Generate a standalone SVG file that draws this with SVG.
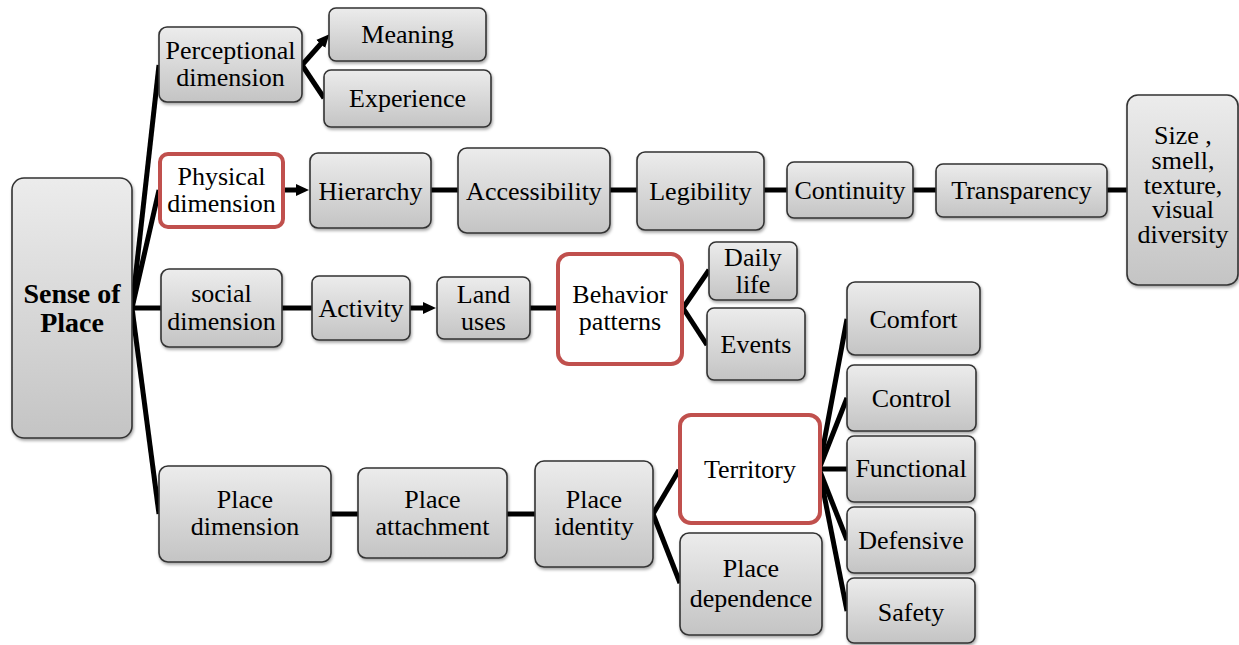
<svg xmlns="http://www.w3.org/2000/svg" width="1239" height="645" viewBox="0 0 1239 645">
<defs>
  <linearGradient id="g" x1="0" y1="0" x2="0" y2="1">
    <stop offset="0" stop-color="#ececec"/>
    <stop offset="1" stop-color="#c4c4c4"/>
  </linearGradient>
  <filter id="sh" x="-10%" y="-10%" width="130%" height="130%">
    <feDropShadow dx="1" dy="2" stdDeviation="1.5" flood-color="#000" flood-opacity="0.35"/>
  </filter>
  <marker id="ah" markerUnits="userSpaceOnUse" markerWidth="14" markerHeight="14" refX="2" refY="7" orient="auto" viewBox="0 0 14 14">
    <path d="M0,1 L13,7 L0,13 z" fill="#000"/>
  </marker>
</defs>
<style>
  .n rect { fill: url(#g); stroke: #333; stroke-width: 1.6; filter: url(#sh); }
  .r rect { fill: #fff; stroke: #c0504d; stroke-width: 4; }
  text { font-family: "Liberation Serif", "Times New Roman", serif; font-size: 26px; fill: #000; text-anchor: middle; }
  .b { font-weight: bold; font-size: 28px; }
  #connectors line { stroke: #000; stroke-width: 5; }
  .arr { marker-end: url(#ah); }
</style>
<rect width="1239" height="645" fill="#fff"/>

<g id="connectors">
  <line x1="132" y1="308" x2="159" y2="65"/>
  <line x1="132" y1="308" x2="159" y2="190"/>
  <line x1="132" y1="308" x2="161" y2="308"/>
  <line x1="132" y1="308" x2="159" y2="514"/>
  <line class="arr" x1="302" y1="65" x2="322" y2="42.5"/>
  <line x1="302" y1="65" x2="324" y2="98"/>
  <line class="arr" x1="284" y1="190" x2="298" y2="190"/>
  <line x1="431" y1="190" x2="458" y2="190"/>
  <line x1="610" y1="190" x2="637" y2="190"/>
  <line x1="764" y1="190" x2="787" y2="190"/>
  <line x1="913" y1="190" x2="936" y2="190"/>
  <line x1="1107" y1="190" x2="1127" y2="190"/>
  <line x1="282" y1="308" x2="312" y2="308"/>
  <line class="arr" x1="410" y1="308" x2="425" y2="308"/>
  <line x1="530" y1="308" x2="557" y2="308"/>
  <line x1="683" y1="308" x2="709" y2="270"/>
  <line x1="683" y1="308" x2="707" y2="345"/>
  <line x1="331" y1="514" x2="358" y2="514"/>
  <line x1="507" y1="514" x2="535" y2="514"/>
  <line x1="653" y1="514" x2="679" y2="470"/>
  <line x1="653" y1="514" x2="680" y2="583"/>
  <line x1="819" y1="469" x2="847" y2="319"/>
  <line x1="819" y1="469" x2="847" y2="398"/>
  <line x1="819" y1="469" x2="847" y2="469"/>
  <line x1="819" y1="469" x2="847" y2="540"/>
  <line x1="819" y1="469" x2="847" y2="611"/>
</g>

<g id="root" class="n"><rect x="12" y="178" width="120" height="260" rx="12"/><text class="b" x="72" y="303">Sense of</text><text class="b" x="72" y="332">Place</text></g>
<g id="perceptional" class="n"><rect x="159" y="27" width="143" height="75" rx="8"/><text x="230.5" y="59">Perceptional</text><text x="230.5" y="86">dimension</text></g>
<g id="meaning" class="n"><rect x="329" y="8" width="157" height="53" rx="7"/><text x="407.5" y="43">Meaning</text></g>
<g id="experience" class="n"><rect x="324" y="70" width="167" height="57" rx="7"/><text x="407.5" y="107">Experience</text></g>
<g id="physical" class="r"><rect x="160" y="154" width="123" height="73" rx="8"/><text x="221.5" y="185">Physical</text><text x="221.5" y="212">dimension</text></g>
<g id="hierarchy" class="n"><rect x="310" y="153" width="121" height="75" rx="8"/><text x="370.5" y="200">Hierarchy</text></g>
<g id="accessibility" class="n"><rect x="458" y="148" width="152" height="85" rx="9"/><text x="534" y="200">Accessibility</text></g>
<g id="legibility" class="n"><rect x="637" y="152" width="127" height="78" rx="8"/><text x="700.5" y="200">Legibility</text></g>
<g id="continuity" class="n"><rect x="787" y="162" width="126" height="56" rx="7"/><text x="850" y="199">Continuity</text></g>
<g id="transparency" class="n"><rect x="936" y="164" width="171" height="53" rx="7"/><text x="1021.5" y="199">Transparency</text></g>
<g id="size" class="n"><rect x="1127" y="95" width="111" height="190" rx="11"/><text x="1183" y="144">Size ,</text><text x="1183" y="169">smell,</text><text x="1183" y="194">texture,</text><text x="1183" y="218">visual</text><text x="1183" y="243">diversity</text></g>
<g id="social" class="n"><rect x="161" y="269" width="121" height="78" rx="8"/><text x="221.5" y="302">social</text><text x="221.5" y="330">dimension</text></g>
<g id="activity" class="n"><rect x="312" y="276" width="98" height="64" rx="7"/><text x="361" y="317">Activity</text></g>
<g id="landuses" class="n"><rect x="437" y="277" width="93" height="62" rx="7"/><text x="483.5" y="303">Land</text><text x="483.5" y="330">uses</text></g>
<g id="behavior" class="r"><rect x="558" y="254" width="124" height="110" rx="11"/><text x="620" y="303">Behavior</text><text x="620" y="330">patterns</text></g>
<g id="dailylife" class="n"><rect x="709" y="242" width="88" height="58" rx="7"/><text x="753" y="266">Daily</text><text x="753" y="293">life</text></g>
<g id="events" class="n"><rect x="707" y="308" width="98" height="72" rx="7"/><text x="756" y="353">Events</text></g>
<g id="comfort" class="n"><rect x="847" y="282" width="133" height="73" rx="8"/><text x="913.5" y="328">Comfort</text></g>
<g id="control" class="n"><rect x="847" y="365" width="129" height="66" rx="7"/><text x="911.5" y="407">Control</text></g>
<g id="functional" class="n"><rect x="847" y="436" width="128" height="66" rx="7"/><text x="911" y="477">Functional</text></g>
<g id="defensive" class="n"><rect x="847" y="507" width="128" height="66" rx="7"/><text x="911" y="549">Defensive</text></g>
<g id="safety" class="n"><rect x="847" y="578" width="128" height="65" rx="7"/><text x="911" y="621">Safety</text></g>
<g id="territory" class="r"><rect x="680" y="415" width="140" height="108" rx="11"/><text x="750" y="478">Territory</text></g>
<g id="placedependence" class="n"><rect x="680" y="533" width="142" height="102" rx="9"/><text x="751" y="577">Place</text><text x="751" y="607">dependence</text></g>
<g id="placeidentity" class="n"><rect x="535" y="461" width="118" height="106" rx="9"/><text x="594" y="508">Place</text><text x="594" y="535">identity</text></g>
<g id="placeattachment" class="n"><rect x="358" y="468" width="149" height="90" rx="8"/><text x="432.5" y="508">Place</text><text x="432.5" y="535">attachment</text></g>
<g id="placedimension" class="n"><rect x="159" y="466" width="172" height="96" rx="9"/><text x="245" y="508">Place</text><text x="245" y="535">dimension</text></g>
</svg>
